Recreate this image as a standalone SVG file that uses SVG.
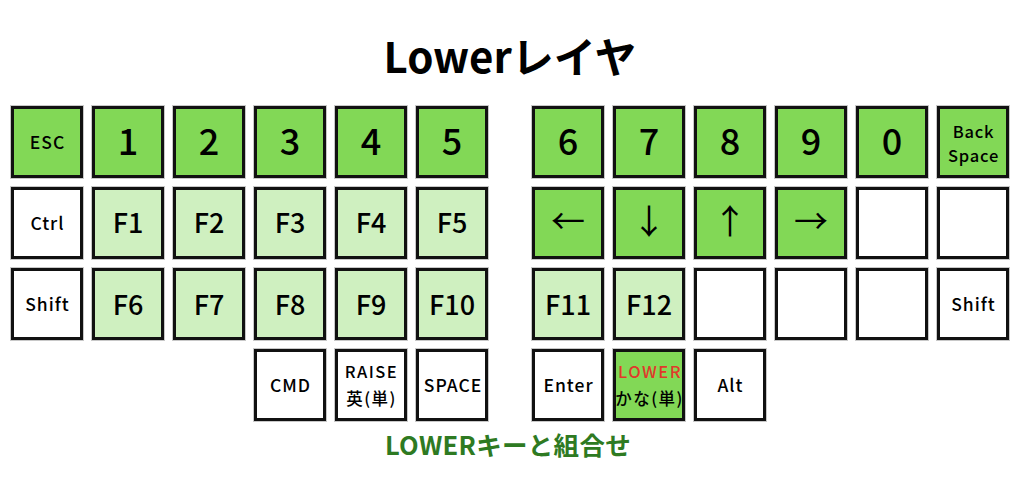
<svg xmlns="http://www.w3.org/2000/svg" width="1020" height="500" viewBox="0 0 1020 500">
<defs>
<style>
text{font-family:"Noto Sans CJK JP","Noto Sans",sans-serif;text-anchor:middle;fill:#000}
.sh{fill:none;stroke:#c8c8c8;stroke-width:5}
.k{stroke:#111;stroke-width:3}
.d{fill:#82d856}
.l{fill:#cff0c0}
.w{fill:#fff}
.num{font-size:36px;font-weight:500}
.fk{font-size:27px;font-weight:500}
.sm{font-size:17.5px;font-weight:500;letter-spacing:1px}
.bs{font-size:16.5px;font-weight:500;letter-spacing:0.8px}
.sm2{font-size:16.5px;font-weight:500;letter-spacing:1.5px}
.ar{font-size:34px;font-weight:400}
.title{font-size:42px;font-weight:700}
.cap{font-size:25.5px;font-weight:700;fill:#2e7a22;letter-spacing:0.3px}
</style>
</defs>
<rect width="1020" height="500" fill="#fff"/>
<text class="title" x="510" y="73">Lowerレイヤ</text>

<g id="key-esc"><rect class="sh" x="12.5" y="107.5" width="69" height="69"/><rect class="k d" x="12.5" y="107.5" width="69" height="69"/><text class="sm" x="47.5" y="149">ESC</text></g>
<g id="key-1"><rect class="sh" x="93.5" y="107.5" width="69" height="69"/><rect class="k d" x="93.5" y="107.5" width="69" height="69"/><text class="num" x="128" y="155">1</text></g>
<g id="key-2"><rect class="sh" x="174.5" y="107.5" width="69" height="69"/><rect class="k d" x="174.5" y="107.5" width="69" height="69"/><text class="num" x="209" y="155">2</text></g>
<g id="key-3"><rect class="sh" x="255.5" y="107.5" width="69" height="69"/><rect class="k d" x="255.5" y="107.5" width="69" height="69"/><text class="num" x="290" y="155">3</text></g>
<g id="key-4"><rect class="sh" x="336.5" y="107.5" width="69" height="69"/><rect class="k d" x="336.5" y="107.5" width="69" height="69"/><text class="num" x="371" y="155">4</text></g>
<g id="key-5"><rect class="sh" x="417.5" y="107.5" width="69" height="69"/><rect class="k d" x="417.5" y="107.5" width="69" height="69"/><text class="num" x="452" y="155">5</text></g>
<g id="key-6"><rect class="sh" x="533.5" y="107.5" width="69" height="69"/><rect class="k d" x="533.5" y="107.5" width="69" height="69"/><text class="num" x="568" y="155">6</text></g>
<g id="key-7"><rect class="sh" x="614.5" y="107.5" width="69" height="69"/><rect class="k d" x="614.5" y="107.5" width="69" height="69"/><text class="num" x="649" y="155">7</text></g>
<g id="key-8"><rect class="sh" x="695.5" y="107.5" width="69" height="69"/><rect class="k d" x="695.5" y="107.5" width="69" height="69"/><text class="num" x="730" y="155">8</text></g>
<g id="key-9"><rect class="sh" x="776.5" y="107.5" width="69" height="69"/><rect class="k d" x="776.5" y="107.5" width="69" height="69"/><text class="num" x="811" y="155">9</text></g>
<g id="key-0"><rect class="sh" x="857.5" y="107.5" width="69" height="69"/><rect class="k d" x="857.5" y="107.5" width="69" height="69"/><text class="num" x="892" y="155">0</text></g>
<g id="key-bs"><rect class="sh" x="938.5" y="107.5" width="69" height="69"/><rect class="k d" x="938.5" y="107.5" width="69" height="69"/><text class="bs" x="973.5" y="138">Back</text><text class="bs" x="973.5" y="162">Space</text></g>

<g id="key-ctrl"><rect class="sh" x="12.5" y="188.5" width="69" height="69"/><rect class="k w" x="12.5" y="188.5" width="69" height="69"/><text class="sm" x="47.5" y="230">Ctrl</text></g>
<g id="key-f1"><rect class="sh" x="93.5" y="188.5" width="69" height="69"/><rect class="k l" x="93.5" y="188.5" width="69" height="69"/><text class="fk" x="128" y="233">F1</text></g>
<g id="key-f2"><rect class="sh" x="174.5" y="188.5" width="69" height="69"/><rect class="k l" x="174.5" y="188.5" width="69" height="69"/><text class="fk" x="209" y="233">F2</text></g>
<g id="key-f3"><rect class="sh" x="255.5" y="188.5" width="69" height="69"/><rect class="k l" x="255.5" y="188.5" width="69" height="69"/><text class="fk" x="290" y="233">F3</text></g>
<g id="key-f4"><rect class="sh" x="336.5" y="188.5" width="69" height="69"/><rect class="k l" x="336.5" y="188.5" width="69" height="69"/><text class="fk" x="371" y="233">F4</text></g>
<g id="key-f5"><rect class="sh" x="417.5" y="188.5" width="69" height="69"/><rect class="k l" x="417.5" y="188.5" width="69" height="69"/><text class="fk" x="452" y="233">F5</text></g>
<g id="key-left"><rect class="sh" x="533.5" y="188.5" width="69" height="69"/><rect class="k d" x="533.5" y="188.5" width="69" height="69"/><text class="ar" x="568" y="234">←</text></g>
<g id="key-down"><rect class="sh" x="614.5" y="188.5" width="69" height="69"/><rect class="k d" x="614.5" y="188.5" width="69" height="69"/><text class="ar" x="649" y="234">↓</text></g>
<g id="key-up"><rect class="sh" x="695.5" y="188.5" width="69" height="69"/><rect class="k d" x="695.5" y="188.5" width="69" height="69"/><text class="ar" x="730" y="234">↑</text></g>
<g id="key-right"><rect class="sh" x="776.5" y="188.5" width="69" height="69"/><rect class="k d" x="776.5" y="188.5" width="69" height="69"/><text class="ar" x="811" y="234">→</text></g>
<g id="key-r1c10"><rect class="sh" x="857.5" y="188.5" width="69" height="69"/><rect class="k w" x="857.5" y="188.5" width="69" height="69"/></g>
<g id="key-r1c11"><rect class="sh" x="938.5" y="188.5" width="69" height="69"/><rect class="k w" x="938.5" y="188.5" width="69" height="69"/></g>

<g id="key-shift-l"><rect class="sh" x="12.5" y="269.5" width="69" height="69"/><rect class="k w" x="12.5" y="269.5" width="69" height="69"/><text class="sm" x="47.5" y="311">Shift</text></g>
<g id="key-f6"><rect class="sh" x="93.5" y="269.5" width="69" height="69"/><rect class="k l" x="93.5" y="269.5" width="69" height="69"/><text class="fk" x="128" y="315">F6</text></g>
<g id="key-f7"><rect class="sh" x="174.5" y="269.5" width="69" height="69"/><rect class="k l" x="174.5" y="269.5" width="69" height="69"/><text class="fk" x="209" y="315">F7</text></g>
<g id="key-f8"><rect class="sh" x="255.5" y="269.5" width="69" height="69"/><rect class="k l" x="255.5" y="269.5" width="69" height="69"/><text class="fk" x="290" y="315">F8</text></g>
<g id="key-f9"><rect class="sh" x="336.5" y="269.5" width="69" height="69"/><rect class="k l" x="336.5" y="269.5" width="69" height="69"/><text class="fk" x="371" y="315">F9</text></g>
<g id="key-f10"><rect class="sh" x="417.5" y="269.5" width="69" height="69"/><rect class="k l" x="417.5" y="269.5" width="69" height="69"/><text class="fk" x="452" y="315">F10</text></g>
<g id="key-f11"><rect class="sh" x="533.5" y="269.5" width="69" height="69"/><rect class="k l" x="533.5" y="269.5" width="69" height="69"/><text class="fk" x="568" y="315">F11</text></g>
<g id="key-f12"><rect class="sh" x="614.5" y="269.5" width="69" height="69"/><rect class="k l" x="614.5" y="269.5" width="69" height="69"/><text class="fk" x="649" y="315">F12</text></g>
<g id="key-r2c8"><rect class="sh" x="695.5" y="269.5" width="69" height="69"/><rect class="k w" x="695.5" y="269.5" width="69" height="69"/></g>
<g id="key-r2c9"><rect class="sh" x="776.5" y="269.5" width="69" height="69"/><rect class="k w" x="776.5" y="269.5" width="69" height="69"/></g>
<g id="key-r2c10"><rect class="sh" x="857.5" y="269.5" width="69" height="69"/><rect class="k w" x="857.5" y="269.5" width="69" height="69"/></g>
<g id="key-shift-r"><rect class="sh" x="938.5" y="269.5" width="69" height="69"/><rect class="k w" x="938.5" y="269.5" width="69" height="69"/><text class="sm" x="973.5" y="311">Shift</text></g>

<g id="key-cmd"><rect class="sh" x="255.5" y="350.5" width="69" height="69"/><rect class="k w" x="255.5" y="350.5" width="69" height="69"/><text class="sm" x="290.5" y="392">CMD</text></g>
<g id="key-raise"><rect class="sh" x="336.5" y="350.5" width="69" height="69"/><rect class="k w" x="336.5" y="350.5" width="69" height="69"/><text class="sm2" x="371.5" y="378">RAISE</text><text class="sm2" x="371.5" y="405" letter-spacing="0">英(単)</text></g>
<g id="key-space"><rect class="sh" x="417.5" y="350.5" width="69" height="69"/><rect class="k w" x="417.5" y="350.5" width="69" height="69"/><text class="sm" x="453" y="392">SPACE</text></g>
<g id="key-enter"><rect class="sh" x="533.5" y="350.5" width="69" height="69"/><rect class="k w" x="533.5" y="350.5" width="69" height="69"/><text class="sm" x="568.5" y="392">Enter</text></g>
<g id="key-lower"><rect class="sh" x="614.5" y="350.5" width="69" height="69"/><rect class="k d" x="614.5" y="350.5" width="69" height="69"/><text class="sm2" x="650" y="378" style="fill:#e0392b">LOWER</text><text class="sm2" x="649.5" y="405" letter-spacing="0">かな(単)</text></g>
<g id="key-alt"><rect class="sh" x="695.5" y="350.5" width="69" height="69"/><rect class="k w" x="695.5" y="350.5" width="69" height="69"/><text class="sm" x="730.5" y="392">Alt</text></g>

<text class="cap" x="508" y="455">LOWERキーと組合せ</text>
<g id="connectors"/>
</svg>
